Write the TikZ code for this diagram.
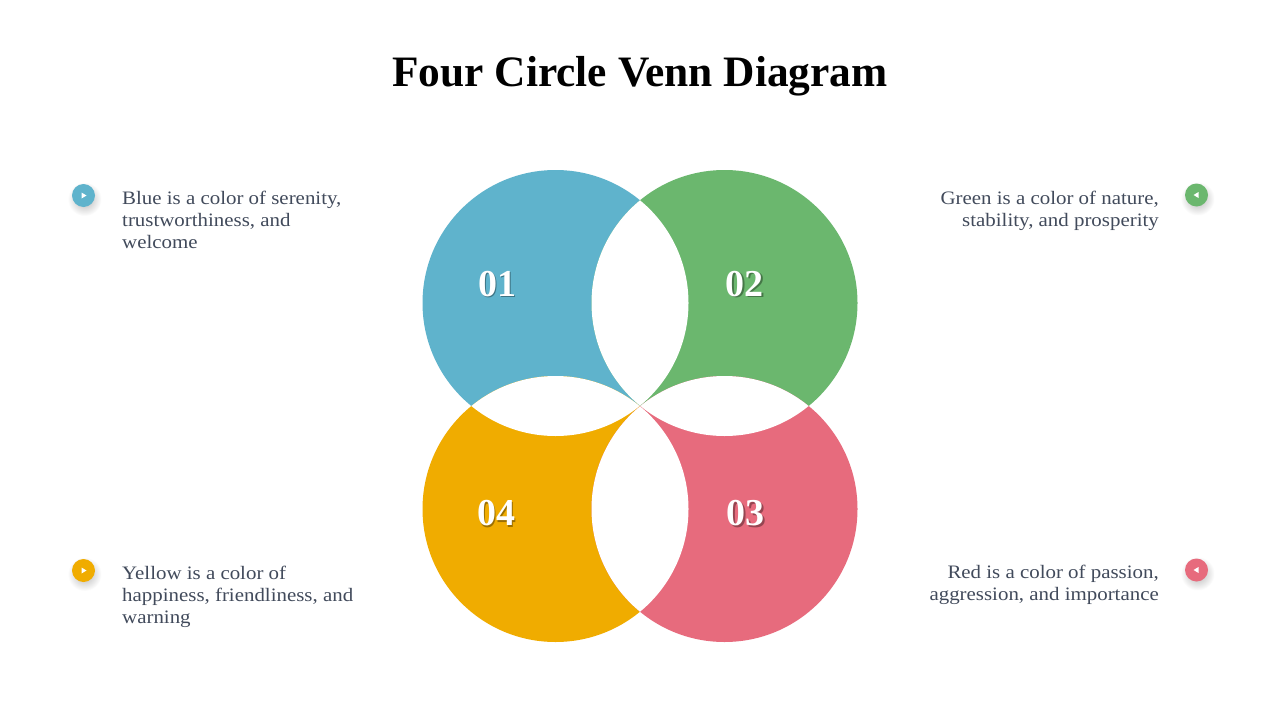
\documentclass[tikz,border=0pt]{standalone}
\usepackage{fontspec}
\setmainfont{Liberation Serif}
\newfontfamily\descfont[FakeStretch=1.1]{Liberation Serif}
\definecolor{cblue}{HTML}{5FB3CC}
\definecolor{cgreen}{HTML}{6BB76E}
\definecolor{cyellow}{HTML}{F0AC00}
\definecolor{cred}{HTML}{E76B7D}
\definecolor{txt}{HTML}{414A5B}
\tikzset{
  desc/.style={font=\descfont\fontsize{19}{22}\selectfont, text=txt, inner sep=0pt},
  num/.style={font=\fontsize{38}{42}\selectfont\bfseries, text=white, inner sep=0pt},
  numshadow/.style={font=\fontsize{38}{42}\selectfont\bfseries, text=black, text opacity=0.35, inner sep=0pt},
  bul/.style={circle, minimum size=23pt, inner sep=0pt},
  bulshadow/.style={inner color=black!30, outer color=white},
}
\begin{document}
\begin{tikzpicture}[x=1pt,y=-1pt]
\useasboundingbox (0,0) rectangle (1280,720);
\fill[white] (0,0) rectangle (1280,720);
\def\R{133pt}
\coordinate (cb) at (555.5,303);
\coordinate (cg) at (724.5,303);
\coordinate (cy) at (555.5,509);
\coordinate (cr) at (724.5,509);
% circles
\fill[cblue] (cb) circle[radius=\R];
\fill[cgreen] (cg) circle[radius=\R];
\fill[cyellow] (cy) circle[radius=\R];
\fill[cred] (cr) circle[radius=\R];
% white lenses
\begin{scope}\clip (cb) circle[radius=\R]; \fill[white] (cg) circle[radius=\R]; \end{scope}
\begin{scope}\clip (cg) circle[radius=\R]; \fill[white] (cr) circle[radius=\R]; \end{scope}
\begin{scope}\clip (cr) circle[radius=\R]; \fill[white] (cy) circle[radius=\R]; \end{scope}
\begin{scope}\clip (cy) circle[radius=\R]; \fill[white] (cb) circle[radius=\R]; \end{scope}
% numbers
\node[numshadow] (s1) at (498.5,285.5) {01};
\node[num] (n1) at (497,284) {01};
\node[numshadow] (s2) at (746,285.5) {02};
\node[num] (n2) at (744.5,284) {02};
\node[numshadow] (s3) at (747,515) {03};
\node[num] (n3) at (745.5,513.5) {03};
\node[numshadow] (s4) at (497.5,515) {04};
\node[num] (n4) at (496,513.5) {04};
% title
\node[font=\fontsize{43.4}{50}\selectfont\bfseries, anchor=base, inner sep=0pt] (title) at (640,86) {Four Circle Venn Diagram};
% bullet shadows
\shade[bulshadow] (84.5,199) circle[radius=17pt];
\shade[bulshadow] (1197.5,198.5) circle[radius=17pt];
\shade[bulshadow] (84.5,574) circle[radius=17pt];
\shade[bulshadow] (1197.5,573.5) circle[radius=17pt];
% bullets
\node[bul, fill=cblue] (b1) at (83.5,195.5) {};
\node[bul, fill=cgreen] (b2) at (1196.5,195) {};
\node[bul, fill=cyellow] (b4) at (83.5,570.5) {};
\node[bul, fill=cred] (b3) at (1196.5,570) {};
\fill[white] (b1.center) ++(-2,-3) -- ++(0,6) -- ++(5,-3) -- cycle;
\fill[white] (b4.center) ++(-2,-3) -- ++(0,6) -- ++(5,-3) -- cycle;
\fill[white] (b2.center) ++(2,-3) -- ++(0,6) -- ++(-5,-3) -- cycle;
\fill[white] (b3.center) ++(2,-3) -- ++(0,6) -- ++(-5,-3) -- cycle;
% descriptions
\node[desc, anchor=base west, align=left] (t1) at (122,248) {Blue is a color of serenity,\\trustworthiness, and\\welcome};
\node[desc, anchor=base east, align=right] (t2) at (1159,226) {Green is a color of nature,\\stability, and prosperity};
\node[desc, anchor=base west, align=left] (t4) at (122,623) {Yellow is a color of\\happiness, friendliness, and\\warning};
\node[desc, anchor=base east, align=right] (t3) at (1159,600) {Red is a color of passion,\\aggression, and importance};
\end{tikzpicture}
\end{document}
